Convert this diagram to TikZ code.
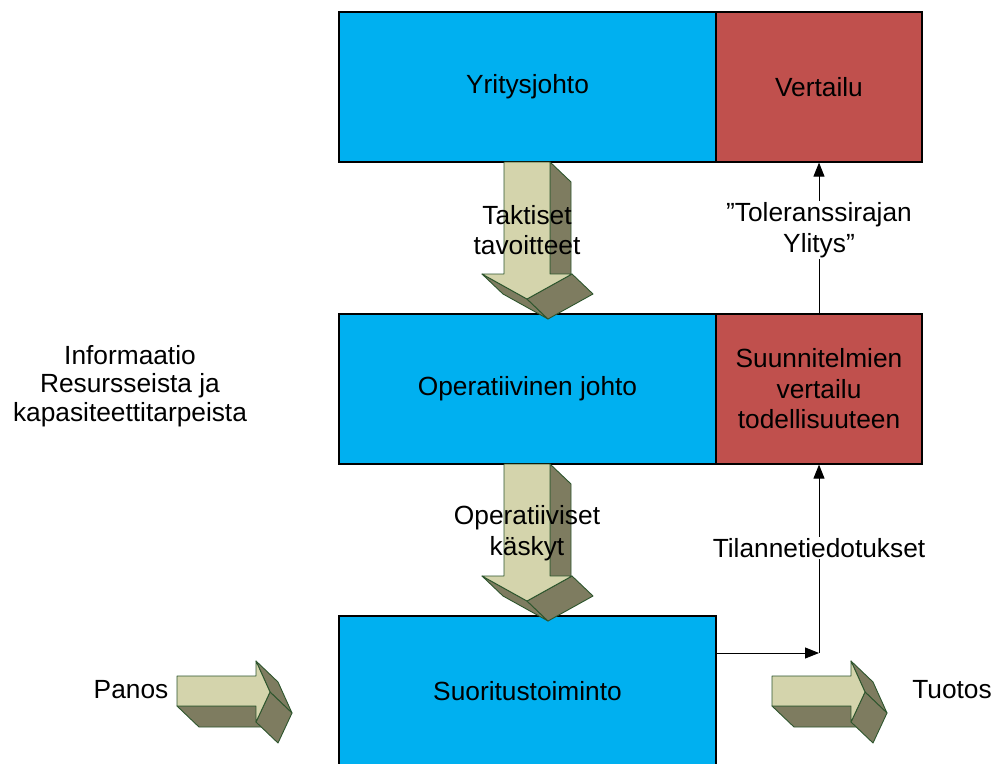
\documentclass[tikz,border=0pt]{standalone}
\usepackage{fontspec}
\setmainfont{Liberation Sans}
\usetikzlibrary{arrows.meta}
\definecolor{boxblue}{RGB}{0,176,240}
\definecolor{boxred}{RGB}{192,80,77}
\definecolor{arrowface}{RGB}{212,212,172}
\definecolor{arrowside}{RGB}{126,124,96}
\definecolor{arrowedge}{RGB}{45,85,45}
\begin{document}
\begin{tikzpicture}[x=1pt,y=-1pt,
  txt/.style={font=\fontsize{26.3}{30.5}\selectfont, align=center, inner sep=1pt},
  blockbox/.style={draw=black, line width=1.2pt, minimum height=150pt, inner sep=0pt, txt},
  bluebox/.style={blockbox, fill=boxblue, minimum width=377pt},
  redbox/.style={blockbox, fill=boxred, minimum width=206pt},
  face/.style={fill=arrowface, draw=arrowedge, line width=0.9pt, line join=round},
  side/.style={fill=arrowside, draw=arrowedge, line width=0.9pt, line join=round},
  flow/.style={draw=black, line width=0.9pt, -{Triangle[length=14pt,width=11pt]}},
  % thick block arrow pointing down, extruded towards lower right
  downblock/.pic={
    \path[side] (23,0) -- (44,20) -- (44,132) -- (23,112) -- cycle;
    \path[side] (-45,112) -- (0,137) -- (21,157) -- (-24,132) -- cycle;
    \path[side] (0,137) -- (45,112) -- (66,132) -- (21,157) -- cycle;
    \path[face] (-23,0) -- (23,0) -- (23,112) -- (45,112) -- (0,137)
      -- (-45,112) -- (-23,112) -- cycle;
  },
  % thick block arrow pointing right, extruded towards lower right
  rightblock/.pic={
    \path[side] (0,30) -- (22,51) -- (101,51) -- (79,30) -- cycle;
    \path[side] (79,-15) -- (93,16) -- (115,37) -- (101,6) -- cycle;
    \path[side] (93,16) -- (79,46) -- (101,67) -- (115,37) -- cycle;
    \path[face] (0,0) -- (79,0) -- (79,-15) -- (93,16) -- (79,46)
      -- (79,30) -- (0,30) -- cycle;
  }]
\useasboundingbox (0,0) rectangle (998,763);

% management levels
\node[bluebox] (yj) at (527.5,87) {Yritysjohto};
\node[redbox] (vt) at (819,87) {Vertailu};
\node[bluebox] (oj) at (527.5,389) {Operatiivinen johto};
\node[redbox] (svt) at (819,389) {Suunnitelmien\\vertailu\\todellisuuteen};
\node[bluebox] (st) at (527.5,691) {Suoritustoiminto};

% block arrows
\pic at (527,162) {downblock};
\pic at (527,464) {downblock};
\pic at (177,676) {rightblock};
\pic at (772,676) {rightblock};

% feedback path
\coordinate (turn) at (819,653);
\draw[flow] (svt.north) -- (vt.south);
\draw[flow] (st.east |- turn) -- (turn);
\draw[flow] (turn) -- (svt.south);

% labels
\node[txt] (tak) at (527,230) {Taktiset\\tavoitteet};
\node[txt, fill=white] (tol) at (819,230) {”Toleranssirajan\\Ylitys”};
\node[txt] (opk) at (527,533) {Operatiiviset\\käskyt};
\node[txt, fill=white] (til) at (819,548) {Tilannetiedotukset};
\node[txt, font=\fontsize{26.3}{28.5}\selectfont] (info) at (130,386)
  {Informaatio\\Resursseista ja\\kapasiteettitarpeista};
\node[txt] (panos) at (131,690) {Panos};
\node[txt] (tuotos) at (952,690) {Tuotos};
\end{tikzpicture}
\end{document}
